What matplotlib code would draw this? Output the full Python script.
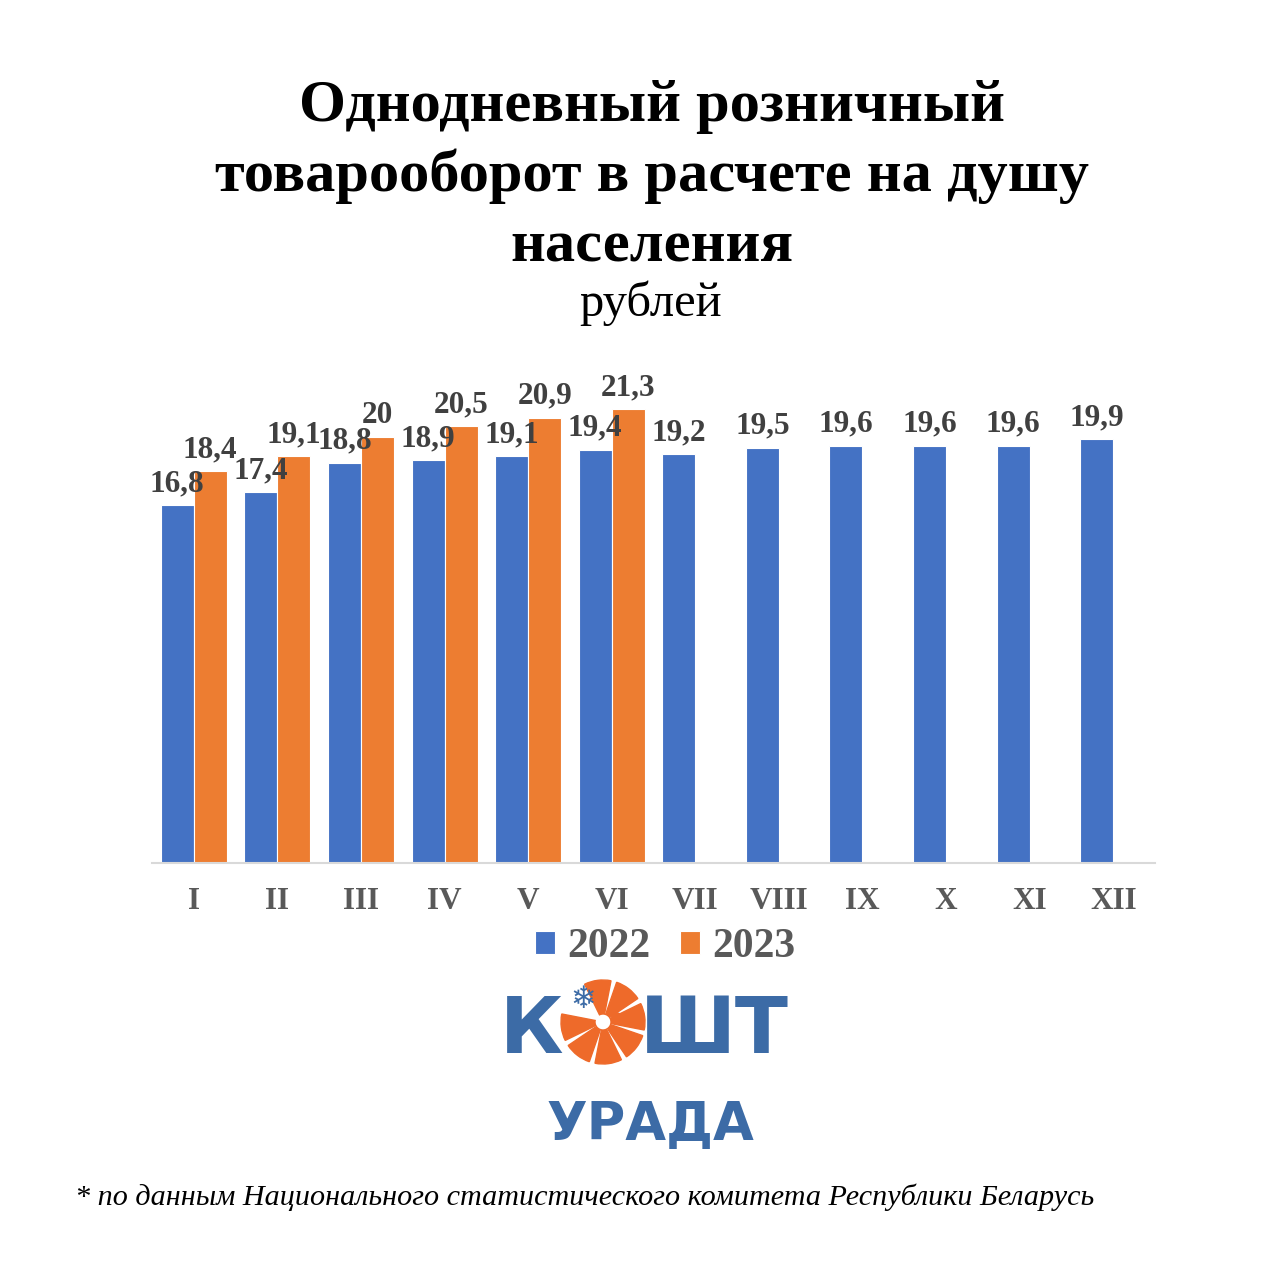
import matplotlib
matplotlib.use("Agg")
import matplotlib.pyplot as plt
import numpy as np
from matplotlib.patches import Wedge, Circle

months = ["I", "II", "III", "IV", "V", "VI", "VII", "VIII", "IX", "X", "XI", "XII"]
values_2022 = [16.8, 17.4, 18.8, 18.9, 19.1, 19.4, 19.2, 19.5, 19.6, 19.6, 19.6, 19.9]
values_2023 = [18.4, 19.1, 20.0, 20.5, 20.9, 21.3]
series_names = ["2022", "2023"]

title_lines = ["Однодневный розничный", "товарооборот в расчете на душу", "населения"]
subtitle = "рублей"
footnote = "* по данным Национального статистического комитета Республики Беларусь"

BLUE = "#4472C4"
ORANGE = "#ED7D31"
GRAY = "#595959"
LABEL = "#404040"
LOGO_BLUE = "#3C6BA6"
LOGO_ORANGE = "#EE6A2A"
SERIF = "Liberation Serif"

W = H = 1280
fig = plt.figure(figsize=(12.8, 12.8), dpi=100)

# main chart axes
ax_left, ax_right = 152 / W, 1155 / W
ax_bottom = 1 - 863 / H
ymax = 22.5
ax_top = 1 - (863 - ymax * 21.3) / H
ax = fig.add_axes([ax_left, ax_bottom, ax_right - ax_left, ax_top - ax_bottom])

x = np.arange(len(months))
bw = 0.395
b1 = ax.bar(x - bw / 2, values_2022, bw, color=BLUE, edgecolor="white", linewidth=0.8, label=series_names[0])
b2 = ax.bar(x[:len(values_2023)] + bw / 2, values_2023, bw, color=ORANGE, edgecolor="white", linewidth=0.8, label=series_names[1])

def fmt(v):
    return f"{v:g}".replace(".", ",")

for bars, vals in ((b1, values_2022), (b2, values_2023)):
    ax.bar_label(bars, labels=[fmt(v) for v in vals], padding=5,
                 fontsize=22.5, fontweight="bold", family=SERIF, color=LABEL)

ax.set_xlim(-0.5, len(months) - 0.5)
ax.set_ylim(0, ymax)
ax.set_xticks(x)
ax.set_xticklabels(months, fontsize=22.5, fontweight="bold", family=SERIF, color=GRAY)
ax.tick_params(axis="x", length=0, pad=17)
ax.set_yticks([])
for s in ("top", "right", "left"):
    ax.spines[s].set_visible(False)
ax.spines["bottom"].set_color("#D9D9D9")
ax.spines["bottom"].set_linewidth(1.5)

leg = fig.legend(handles=[b1, b2], labels=series_names, loc="center",
                 bbox_to_anchor=(665 / W, 1 - 947 / H), ncol=2, frameon=False,
                 prop={"family": SERIF, "weight": "bold", "size": 30},
                 handlelength=0.48, handleheight=0.48, handletextpad=0.3, columnspacing=0.7)
for t in leg.get_texts():
    t.set_color(GRAY)

# titles
for i, line in enumerate(title_lines):
    fig.text(652 / W, 1 - (121 + 70 * i) / H, line, ha="center", va="baseline",
             fontsize=43.5, fontweight="bold", family=SERIF, color="black")
fig.text(651 / W, 1 - 316 / H, subtitle, ha="center", va="baseline",
         fontsize=35, family=SERIF, color="black")

fig.text(75 / W, 1 - 1205 / H, footnote, ha="left", va="baseline",
         fontsize=21.7, style="italic", family=SERIF, color="black")

# logo (decoration) in pixel coordinates
lax = fig.add_axes([0, 0, 1, 1])
lax.set_xlim(0, W)
lax.set_ylim(H, 0)
lax.axis("off")
lax.set_zorder(-1)
lax.text(532, 1053, "К", ha="center", va="baseline", fontsize=56, fontweight="heavy",
         family="DejaVu Sans", color=LOGO_BLUE)
lax.text(714, 1053, "ШТ", ha="center", va="baseline", fontsize=56, fontweight="heavy",
         family="DejaVu Sans", color=LOGO_BLUE)
lax.text(650, 1140, "УРАДА", ha="center", va="baseline", fontsize=38, fontweight="heavy",
         family="DejaVu Sans", color=LOGO_BLUE)
cx, cy, r = 603, 1022, 42
for a0 in range(-75, 285, 45):
    if a0 == 195:  # snowflake slot (upper-left)
        continue
    lax.add_patch(Wedge((cx, cy), r, a0 + 4, a0 + 41, width=r - 8, color=LOGO_ORANGE))
lax.text(cx - 20, cy - 22, "❄", ha="center", va="center", fontsize=22,
         family="DejaVu Sans", color=LOGO_BLUE)
lax.add_patch(Circle((cx + 14, cy - 4), 5, color=LOGO_ORANGE))

fig.savefig("out.png", dpi=100, facecolor="white")
